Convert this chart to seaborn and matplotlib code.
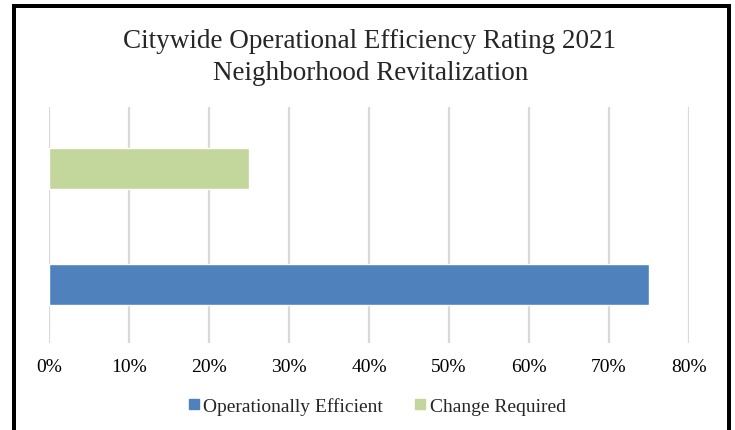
import matplotlib
matplotlib.use("Agg")
import matplotlib.pyplot as plt
from matplotlib.lines import Line2D
from matplotlib.ticker import FuncFormatter
import pandas as pd
import seaborn as sns

categories = ["Change Required", "Operationally Efficient"]
values = [25, 75]
legend_order = ["Operationally Efficient", "Change Required"]
colors = {"Operationally Efficient": "#4F81BD", "Change Required": "#C3D69B"}
ticks = [0, 10, 20, 30, 40, 50, 60, 70, 80]

sns.set_style("white")
plt.rcParams["font.family"] = ["Liberation Serif", "DejaVu Serif"]

df = pd.DataFrame({"category": categories, "value": values})

W, H = 735, 431
fig = plt.figure(figsize=(W / 100, H / 100), dpi=100)
ax = fig.add_axes([49 / W, 1 - 344 / H, (689 - 49) / W, (344 - 108) / H])

sns.barplot(data=df, x="value", y="category", hue="category", order=categories,
            palette=colors, saturation=1, width=0.353, legend=False, ax=ax, zorder=3)

ax.set_xlim(0, 80)
ax.set_ylim(1.504, -0.53)
ax.set_xticks(ticks)
ax.xaxis.set_major_formatter(FuncFormatter(lambda v, p: f"{v:.0f}%"))
ax.set_yticks([])
ax.set_xlabel("")
ax.set_ylabel("")
ax.tick_params(axis="x", length=0, pad=11, labelsize=14, colors="#000000")
ax.grid(axis="x", color="#D9D9D9", linewidth=1.6, zorder=0)
for s in ax.spines.values():
    s.set_visible(False)

# title, two lines
fig.text(370 / W, 1 - 42 / H, "Citywide Operational Efficiency Rating 2021",
         ha="center", va="center", fontsize=19.5)
fig.text(371 / W, 1 - 73 / H, "Neighborhood Revitalization",
         ha="center", va="center", fontsize=19.5)

handles = [Line2D([], [], marker="s", linestyle="none", markersize=7,
                  color=colors[c]) for c in legend_order]
fig.legend(handles, legend_order, loc="center", bbox_to_anchor=(376 / W, 1 - 407 / H),
           ncol=2, frameon=False, fontsize=14, handletextpad=0.1,
           columnspacing=1.5, handlelength=0.8)

# black frame round the chart
lw = 4 * 72 / 100
fig.add_artist(Line2D([14 / W, 14 / W], [-0.02, 1 - 7 / H], color="black",
                      lw=lw, transform=fig.transFigure, solid_capstyle="projecting"))
fig.add_artist(Line2D([14 / W, 729 / W], [1 - 7 / H, 1 - 7 / H], color="black",
                      lw=lw, transform=fig.transFigure, solid_capstyle="projecting"))
fig.add_artist(Line2D([729 / W, 729 / W], [-0.02, 1 - 7 / H], color="black",
                      lw=lw, transform=fig.transFigure, solid_capstyle="projecting"))

fig.savefig("out.png", dpi=100)
